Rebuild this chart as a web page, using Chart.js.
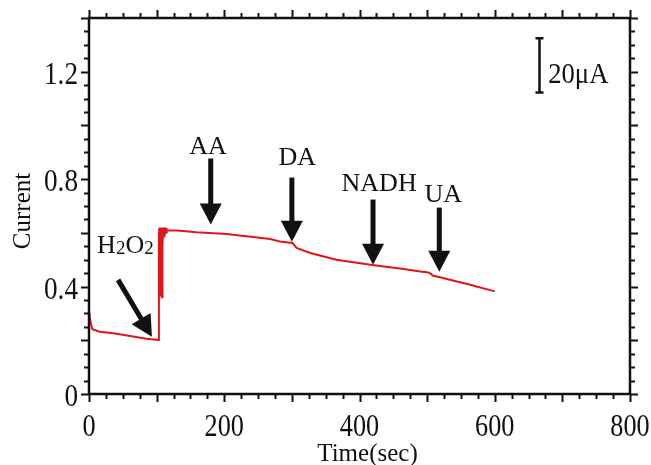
<!DOCTYPE html>
<html>
<head>
<meta charset="utf-8">
<title>Current vs time</title>
<script src="https://cdn.jsdelivr.net/npm/chart.js@4.4.1/dist/chart.umd.min.js"></script>
<style>
    html, body { margin: 0; padding: 0; background: #fff; }
    #chart { display: block; }
</style>
</head>
<body>
<canvas id="chart" width="651" height="465"></canvas>
<script>
// amperometric trace
var times = [0, 1, 3, 5, 16, 36, 61, 85, 102.6,
    103.2, 103.5, 103.8, 104, 104.3, 104.5, 104.8, 105, 105.3, 105.5, 105.8, 106, 106.3, 106.5, 106.8,
    107, 107.3, 107.5, 107.8, 108, 108.3, 108.5, 108.8, 109, 109.5, 110, 110.5,
    111, 111.5, 112, 112.5, 113, 113.5, 114, 114.5, 115, 116, 130, 139, 159, 204, 213, 243, 268, 282,
    301, 307, 327, 366, 416, 465, 490, 500, 504, 509, 519, 544, 564, 573, 600];
var current = [0.301, 0.29, 0.26, 0.241, 0.232, 0.226, 0.216, 0.206, 0.201,
    0.60, 0.37, 0.615, 0.40, 0.62, 0.36, 0.615, 0.45, 0.62, 0.38, 0.615, 0.42, 0.62, 0.37, 0.615,
    0.50, 0.62, 0.40, 0.615, 0.36, 0.61, 0.48, 0.62, 0.55, 0.62, 0.58, 0.62,
    0.59, 0.62, 0.595, 0.62, 0.60, 0.62, 0.60, 0.618, 0.605, 0.609, 0.609, 0.607, 0.602, 0.596, 0.593, 0.585, 0.577, 0.568,
    0.562, 0.544, 0.525, 0.50, 0.481, 0.465, 0.456, 0.453, 0.45, 0.44, 0.435, 0.419, 0.407, 0.40, 0.382];

var xTickLabels = [0, 200, 400, 600, 800];
var yTickLabels = [0, 0.4, 0.8, 1.2];

// injection arrows (time, arrow top, arrow tip) and their labels
var arrowLabels = ['AA', 'DA', 'NADH', 'UA'];
var arrowTimes = [180, 300, 420, 518];
var arrowTops = [0.877, 0.806, 0.724, 0.694];
var arrowTips = [0.631, 0.567, 0.481, 0.455];
var labelTimes = [176, 308, 429, 524];
var labelValues = [0.892, 0.854, 0.754, 0.716];

function txt(ctx, s, x, y, size, sx, align) {
    ctx.save();
    ctx.translate(x, y);
    ctx.scale(sx, 1);
    ctx.font = size + 'px "Liberation Serif"';
    ctx.textAlign = align;
    ctx.textBaseline = 'alphabetic';
    ctx.fillStyle = '#111';
    ctx.fillText(s, 0, 0);
    ctx.restore();
}

function arrow(ctx, x0, y0, x1, y1) {
    var dx = x1 - x0, dy = y1 - y0;
    var len = Math.sqrt(dx * dx + dy * dy);
    var ux = dx / len, uy = dy / len;
    var hl = 21, hw = 11;
    var bx = x1 - ux * hl, by = y1 - uy * hl;
    ctx.save();
    ctx.strokeStyle = '#111';
    ctx.fillStyle = '#111';
    ctx.lineWidth = 5;
    ctx.beginPath();
    ctx.moveTo(x0, y0);
    ctx.lineTo(bx + ux, by + uy);
    ctx.stroke();
    ctx.beginPath();
    ctx.moveTo(x1, y1);
    ctx.lineTo(bx - uy * hw, by + ux * hw);
    ctx.lineTo(bx + uy * hw, by - ux * hw);
    ctx.closePath();
    ctx.fill();
    ctx.restore();
}

var framePlugin = {
    id: 'frame',
    afterDraw: function (chart) {
        var ctx = chart.ctx;
        var xs = chart.scales.x, ys = chart.scales.y;
        var a = chart.chartArea;
        ctx.save();
        ctx.strokeStyle = '#111';
        ctx.lineWidth = 2.5;
        ctx.strokeRect(a.left, a.top, a.right - a.left, a.bottom - a.top);

        // ticks pointing out on all four sides
        ctx.lineWidth = 2;
        ctx.beginPath();
        for (var t = 0; t <= 800; t += 25) {
            var px = Math.round(xs.getPixelForValue(t)) + 0.5;
            var l = (t % 100 === 0) ? 8 : 5;
            ctx.moveTo(px, a.bottom); ctx.lineTo(px, a.bottom + l);
            ctx.moveTo(px, a.top); ctx.lineTo(px, a.top - l);
        }
        for (var i = 0; i <= 28; i++) {
            var py = Math.round(ys.getPixelForValue(i * 0.05)) + 0.5;
            var ll = (i % 4 === 0) ? 8 : 5;
            ctx.moveTo(a.left, py); ctx.lineTo(a.left - ll, py);
            ctx.moveTo(a.right, py); ctx.lineTo(a.right + ll, py);
        }
        ctx.stroke();
        ctx.restore();

        xTickLabels.forEach(function (v) {
            txt(ctx, String(v), xs.getPixelForValue(v), a.bottom + 42, 32, 0.82, 'center');
        });
        yTickLabels.forEach(function (v) {
            txt(ctx, String(v), a.left - 11, ys.getPixelForValue(v) + 12, 32, 0.85, 'right');
        });

        // axis titles
        txt(ctx, 'Time(sec)', (a.left + a.right) / 2 + 8, 461, 25, 1, 'center');
        ctx.save();
        ctx.translate(30, 211);
        ctx.rotate(-Math.PI / 2);
        txt(ctx, 'Current', 0, 0, 25, 1, 'center');
        ctx.restore();

        // arrows
        for (var k = 0; k < arrowLabels.length; k++) {
            var ax = xs.getPixelForValue(arrowTimes[k]);
            arrow(ctx, ax, ys.getPixelForValue(arrowTops[k]), ax, ys.getPixelForValue(arrowTips[k]));
            txt(ctx, arrowLabels[k], xs.getPixelForValue(labelTimes[k]), ys.getPixelForValue(labelValues[k]), 26, 1, 'center');
        }
        arrow(ctx, xs.getPixelForValue(43), ys.getPixelForValue(0.425), xs.getPixelForValue(93), ys.getPixelForValue(0.213));

        // H2O2 label with subscripts
        var hx = xs.getPixelForValue(12), hy = ys.getPixelForValue(0.526);
        ctx.font = '26px "Liberation Serif"';
        var wH = ctx.measureText('H').width, wO = ctx.measureText('O').width;
        ctx.font = '19px "Liberation Serif"';
        var w2 = ctx.measureText('2').width;
        txt(ctx, 'H', hx, hy, 26, 1, 'left');
        txt(ctx, '2', hx + wH, hy + 1, 19, 1, 'left');
        txt(ctx, 'O', hx + wH + w2, hy, 26, 1, 'left');
        txt(ctx, '2', hx + wH + w2 + wO, hy + 1, 19, 1, 'left');

        // 20 uA scale bar
        var sx = Math.round(xs.getPixelForValue(666)) + 0.5;
        var sTop = ys.getPixelForValue(1.325), sBot = ys.getPixelForValue(1.123);
        ctx.save();
        ctx.strokeStyle = '#111';
        ctx.lineWidth = 2.5;
        ctx.beginPath();
        ctx.moveTo(sx, sTop); ctx.lineTo(sx, sBot);
        ctx.moveTo(sx - 4, sTop); ctx.lineTo(sx + 4, sTop);
        ctx.moveTo(sx - 4, sBot); ctx.lineTo(sx + 4, sBot);
        ctx.stroke();
        ctx.restore();
        txt(ctx, '20\u03bcA', xs.getPixelForValue(679), ys.getPixelForValue(1.157), 29, 0.92, 'left');
    }
};

var ctx = document.getElementById('chart');
var chart = new Chart(ctx, {
    type: 'line',
    data: {
        datasets: [{
            label: 'Current',
            data: times.map(function (t, i) { return {x: t, y: current[i]}; }),
            borderColor: '#e3141b',
            borderWidth: 2,
            pointRadius: 0,
            fill: false,
            tension: 0
        }]
    },
    options: {
        responsive: false,
        animation: false,
        devicePixelRatio: 1,
        layout: {padding: {left: 89, right: 21, top: 18, bottom: 71}},
        plugins: {legend: {display: false}, tooltip: {enabled: false}},
        scales: {
            x: {type: 'linear', min: 0, max: 800, display: false},
            y: {type: 'linear', min: 0, max: 1.4, display: false}
        }
    },
    plugins: [framePlugin]
});
</script>
</body>
</html>
